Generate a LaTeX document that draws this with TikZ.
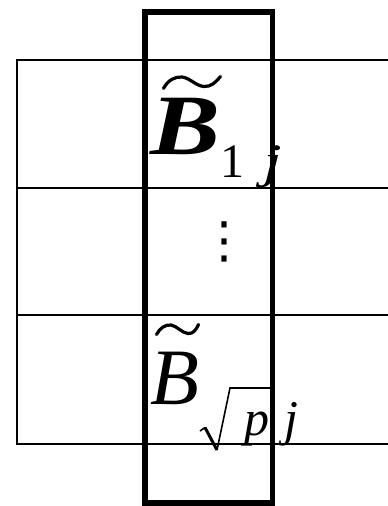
\documentclass[tikz,border=0pt]{standalone}
\usepackage{graphicx}
\usepackage{fontspec}
\setmainfont{Liberation Serif}
\newfontfamily\symfont{DejaVu Sans}
\begin{document}
\begin{tikzpicture}[x=1pt,y=-1pt,
  grid/.style={line width=2pt},
  frame/.style={line width=5.5pt},
  tildeline/.style={line width=3.2pt, line cap=round},
  radthin/.style={line width=1.6pt},
  radthick/.style={line width=3pt},
  txt/.style={inner sep=0pt, anchor=base west},
  bigbold/.style={txt, font=\fontsize{86}{86}\selectfont\bfseries\itshape},
  bigit/.style={txt, font=\fontsize{80}{80}\selectfont\itshape},
  subup/.style={txt, font=\fontsize{48}{48}\selectfont},
  subit/.style={txt, font=\fontsize{48}{48}\selectfont\itshape},
  subit2/.style={txt, font=\fontsize{50}{50}\selectfont\itshape},
  dots/.style={inner sep=0pt, font=\fontsize{50}{50}\selectfont\symfont}
]
\useasboundingbox (0,0) rectangle (388,506);
% texts
\node[bigbold] (B1) at (150,154) {\scalebox{1.22}[1]{B}};
\node[subup] (one) at (220,177) {1};
\node[subit] (j1) at (263,177) {\scalebox{1.4}[1]{j}};
\node[dots] (vd) at (224,241.7) {⋮};
\node[bigit] (B2) at (150,404) {B};
\node[subit2] (p) at (244,435) {p};
\node[subit2] (j2) at (284,435) {j};
% tildes
\draw[tildeline] (163.5,88.5) .. controls (168,80) and (175,76.5) .. (182,77)
  .. controls (190,78) and (196,86) .. (204,86.5)
  .. controls (211,87) and (216,82) .. (220.5,76.5);
\draw[tildeline] (156.5,334.5) .. controls (160,328) and (165,324.5) .. (171,325)
  .. controls (177,326) and (182,333) .. (188,333.5)
  .. controls (193,334) and (196,330) .. (198.5,324.5);
% radical
\coordinate (r0) at (200,431);
\coordinate (r1) at (205,427.5);
\coordinate (r2) at (217,450);
\coordinate (r3) at (230,388);
\coordinate (r4) at (270,388);
\draw[radthin] (r0) -- (r1);
\draw[radthick] (r1) -- (r2);
\draw[radthin] (r2) -- (r3) -- (r4);
% grid
\draw[grid] (392,60) -- (17,60) -- (17,444) -- (392,444);
\draw[grid] (17,188) -- (392,188);
\draw[grid] (17,315) -- (392,315);
% thick frame
\draw[frame] (145,12) rectangle (272.5,503);
\end{tikzpicture}
\end{document}
